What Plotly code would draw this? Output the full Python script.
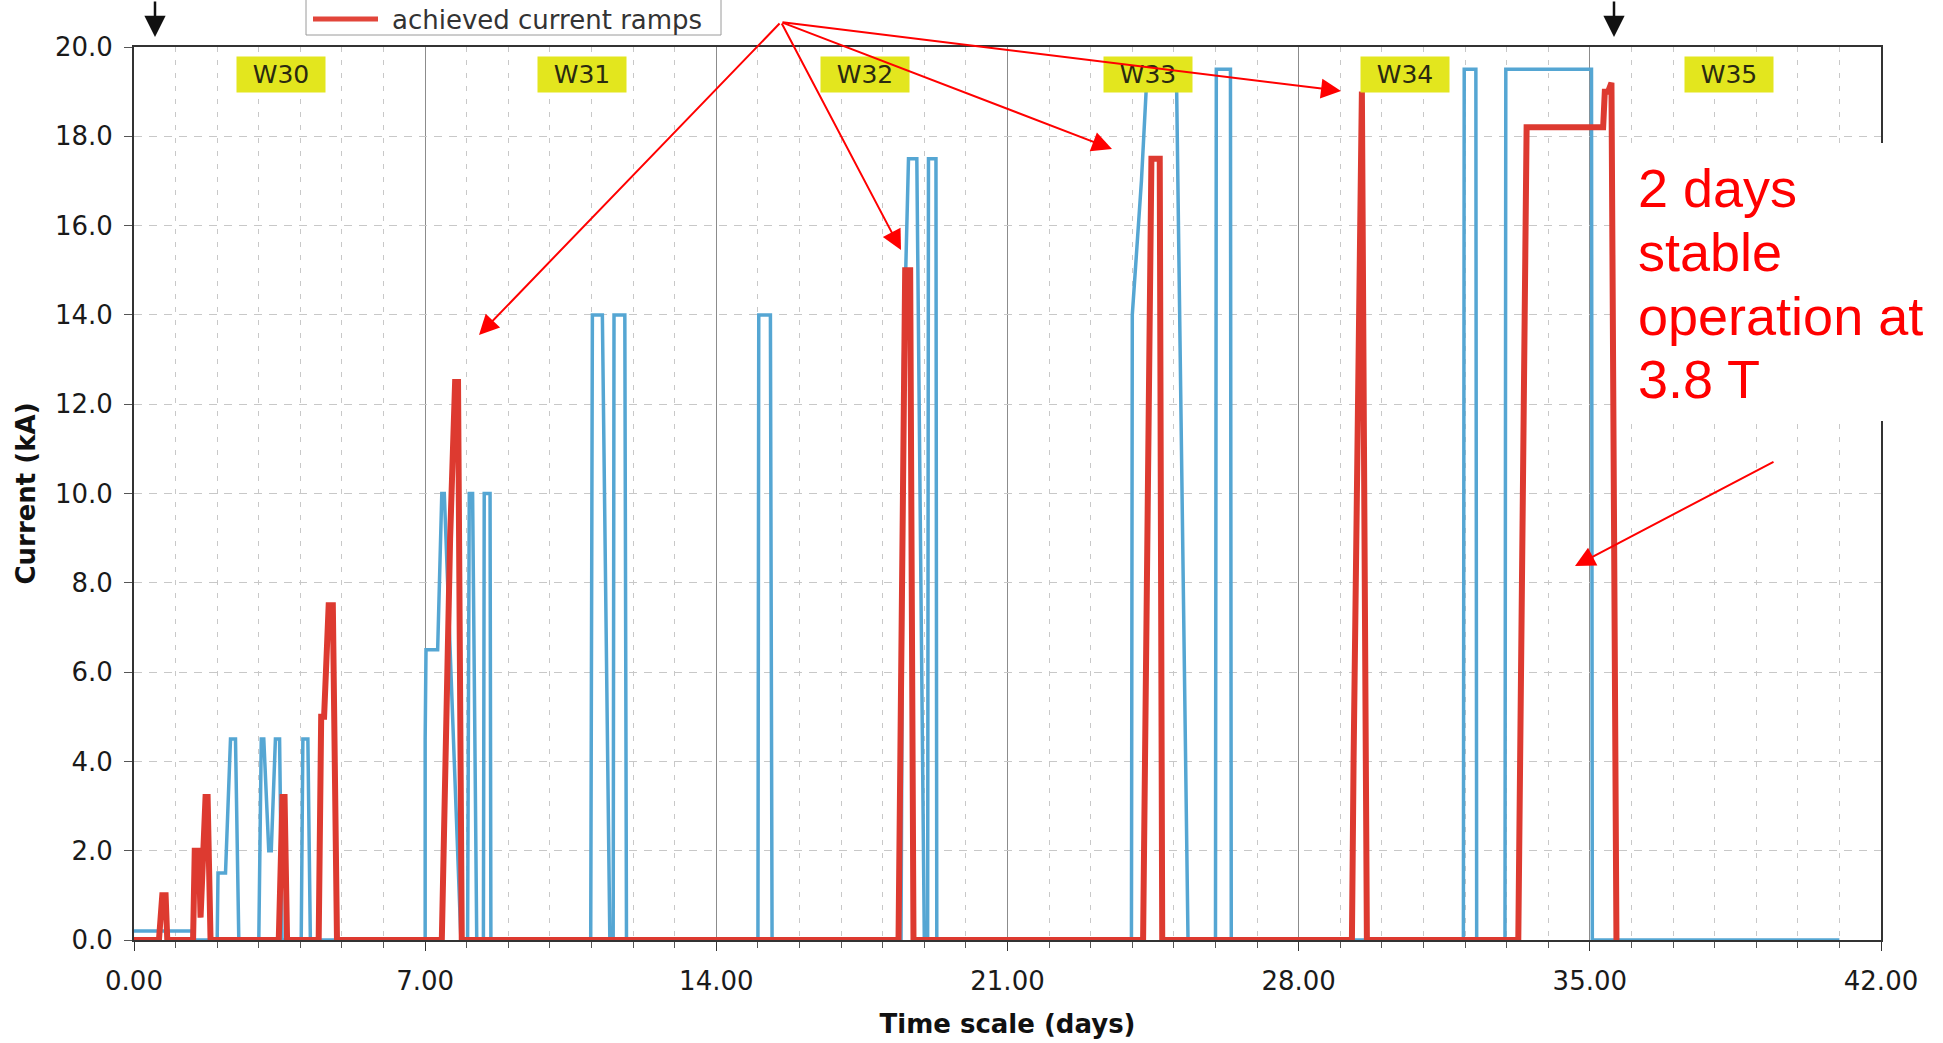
import plotly.graph_objects as go

# ---------------- data ----------------
days_achieved = [0.00, 0.60, 0.68, 0.76, 0.80,
                 1.42, 1.46, 1.56, 1.60, 1.66, 1.72, 1.77, 1.84,
                 3.48, 3.57, 3.62, 3.68,
                 4.44, 4.50, 4.57, 4.68, 4.78, 4.88,
                 7.40, 7.60, 7.72, 7.79, 7.88,
                 18.38, 18.54, 18.66, 18.74,
                 24.26, 24.46, 24.66, 24.72,
                 29.28, 29.32, 29.52, 29.64,
                 33.28, 33.48, 35.32, 35.36, 35.44, 35.52, 35.64]
current_achieved = [0.0, 0.0, 1.0, 1.0, 0.0,
                    0.0, 2.0, 2.0, 0.5, 2.0, 3.2, 3.2, 0.0,
                    0.0, 3.2, 3.2, 0.0,
                    0.0, 5.0, 5.0, 7.5, 7.5, 0.0,
                    0.0, 9.0, 12.5, 12.5, 0.0,
                    0.0, 15.0, 15.0, 0.0,
                    0.0, 17.5, 17.5, 0.0,
                    0.0, 4.0, 19.0, 0.0,
                    0.0, 18.2, 18.2, 19.0, 19.0, 19.2, 0.0]

days_planned = [0.00, 1.40, 1.42, 2.00, 2.02, 2.20, 2.32, 2.44, 2.52,
                3.00, 3.06, 3.12, 3.24, 3.30, 3.40, 3.50, 3.56,
                4.02, 4.06, 4.18, 4.24,
                7.00, 7.00, 7.02, 7.30, 7.34, 7.40, 7.46, 7.86,
                8.02, 8.06, 8.14, 8.24, 8.40, 8.42, 8.56, 8.58,
                10.98, 11.02, 11.26, 11.44, 11.52, 11.54, 11.80, 11.84,
                15.00, 15.02, 15.30, 15.34,
                18.44, 18.50, 18.62, 18.82, 19.00, 19.08, 19.10, 19.28, 19.30,
                23.98, 24.00, 24.22, 24.36, 25.06, 25.34,
                26.00, 26.02, 26.36, 26.38,
                31.96, 31.98, 32.26, 32.28,
                32.96, 32.98, 35.04, 35.06, 41.00]
current_planned = [0.2, 0.2, 0.0, 0.0, 1.5, 1.5, 4.5, 4.5, 0.0,
                   0.0, 4.5, 4.5, 2.0, 2.0, 4.5, 4.5, 0.0,
                   0.0, 4.5, 4.5, 0.0,
                   0.0, 4.5, 6.5, 6.5, 8.0, 10.0, 10.0, 0.0,
                   0.0, 10.0, 10.0, 0.0, 0.0, 10.0, 10.0, 0.0,
                   0.0, 14.0, 14.0, 0.0, 0.0, 14.0, 14.0, 0.0,
                   0.0, 14.0, 14.0, 0.0,
                   0.0, 13.0, 17.5, 17.5, 0.0, 0.0, 17.5, 17.5, 0.0,
                   0.0, 14.0, 17.0, 19.5, 19.5, 0.0,
                   0.0, 19.5, 19.5, 0.0,
                   0.0, 19.5, 19.5, 0.0,
                   0.0, 19.5, 19.5, 0.0, 0.0]

week_labels = ["W30", "W31", "W32", "W33", "W34", "W35"]
week_label_days = [3.54, 10.77, 17.57, 24.38, 30.55, 38.34]
week_label_level = 19.38

legend_text = "achieved current ramps"
note_lines = ["2 days", "stable", "operation at", "3.8 T"]

# ---------------- geometry helpers (pixels -> paper) ----------------
W, H = 1943, 1043
L, R, T, B = 134, 1881, 47, 940


def px(x):
    return (x - L) / (R - L)


def py(y):
    return (B - y) / (B - T)


fig = go.Figure()
fig.add_trace(go.Scatter(x=days_planned, y=current_planned, mode="lines",
                         name="current ramps", showlegend=False,
                         line=dict(color="#55a6d3", width=3.5)))
fig.add_trace(go.Scatter(x=days_achieved, y=current_achieved, mode="lines",
                         name=legend_text, showlegend=False,
                         line=dict(color="#dd3a30", width=6)))

tick_font = dict(family="DejaVu Sans", size=26, color="#1a1a1a")
title_font = dict(family="DejaVu Sans", size=26, color="#111")

fig.update_xaxes(range=[0, 42], tick0=0, dtick=7, tickformat=".2f",
                 showgrid=True, gridcolor="#8c8c8c", gridwidth=1,
                 minor=dict(dtick=1, showgrid=True, gridcolor="#c8c8c8",
                            griddash="5px,8px", gridwidth=1,
                            ticks="outside", ticklen=6, tickcolor="#555"),
                 ticks="outside", ticklen=9, tickcolor="#333",
                 showline=True, linecolor="#333", linewidth=2, mirror=True,
                 zeroline=False, tickfont=tick_font, ticklabelstandoff=8,
                 title=dict(text="<b>Time scale (days)</b>", font=title_font, standoff=20))
fig.update_yaxes(range=[0, 20], tick0=0, dtick=2, tickformat=".1f",
                 showgrid=True, gridcolor="#c8c8c8", griddash="8px,7px", gridwidth=1,
                 ticks="outside", ticklen=8, tickcolor="#555",
                 showline=True, linecolor="#333", linewidth=2, mirror=True,
                 zeroline=False, tickfont=tick_font, ticklabelstandoff=6,
                 title=dict(text="<b>Current (kA)</b>", font=title_font, standoff=12))

annotations = []
# week labels
for lab, d in zip(week_labels, week_label_days):
    annotations.append(dict(x=d, y=week_label_level, xref="x", yref="y", text=lab,
                            showarrow=False, bgcolor="#e3e61e", width=84, height=31,
                            borderpad=2, font=dict(family="DejaVu Sans", size=25, color="#2a2a10")))

# legend text
annotations.append(dict(x=px(390), y=py(20), xref="paper", yref="paper", text=legend_text,
                        showarrow=False, xanchor="left", yanchor="middle",
                        font=dict(family="DejaVu Sans", size=26, color="#333")))

# red arrows from a common origin
origin = (781, 22)
for tip in [(479, 335), (901, 250), (1112, 149), (1341, 91)]:
    annotations.append(dict(x=px(tip[0]), y=py(tip[1]), xref="paper", yref="paper",
                            ax=origin[0] - tip[0], ay=origin[1] - tip[1], text="",
                            showarrow=True, arrowhead=2, arrowsize=2.0, arrowwidth=2,
                            arrowcolor="#ff0000", standoff=0))
# arrow for the stable-operation note
annotations.append(dict(x=px(1575), y=py(566), xref="paper", yref="paper",
                        ax=1775 - 1575, ay=461 - 566, text="",
                        showarrow=True, arrowhead=2, arrowsize=2.0, arrowwidth=2,
                        arrowcolor="#ff0000", standoff=0))
# black arrows at the top
for xa in [155, 1614]:
    annotations.append(dict(x=px(xa), y=py(37), xref="paper", yref="paper",
                            ax=0, ay=-45, text="", showarrow=True, arrowhead=2,
                            arrowsize=1.7, arrowwidth=2.5, arrowcolor="#111", standoff=0))

# red note text
for line, yc in zip(note_lines, [188, 252, 316, 379]):
    annotations.append(dict(x=px(1636), y=py(yc), xref="paper", yref="paper", text=line,
                            showarrow=False, xanchor="left", yanchor="middle",
                            font=dict(family="Liberation Sans", size=54, color="#ff0000")))

shapes = [
    # white box behind the note
    dict(type="rect", xref="paper", yref="paper", x0=px(1618), x1=px(1990),
         y0=py(421), y1=py(143), fillcolor="white", line=dict(width=0), layer="above"),
    # legend frame (top cut off by the page)
    dict(type="rect", xref="paper", yref="paper", x0=px(306), x1=px(721),
         y0=py(35), y1=py(-30), fillcolor="rgba(0,0,0,0)", line=dict(color="#9a9a9a", width=1),
         layer="above"),
    # legend line sample
    dict(type="line", xref="paper", yref="paper", x0=px(313), x1=px(378),
         y0=py(19), y1=py(19), line=dict(color="#e2453a", width=5), layer="above"),
]

fig.update_layout(width=W, height=H, autosize=False,
                  margin=dict(l=L, r=W - R, t=T, b=H - B, autoexpand=False),
                  paper_bgcolor="white", plot_bgcolor="white",
                  showlegend=False, annotations=annotations, shapes=shapes)

fig.write_html("out.html")
